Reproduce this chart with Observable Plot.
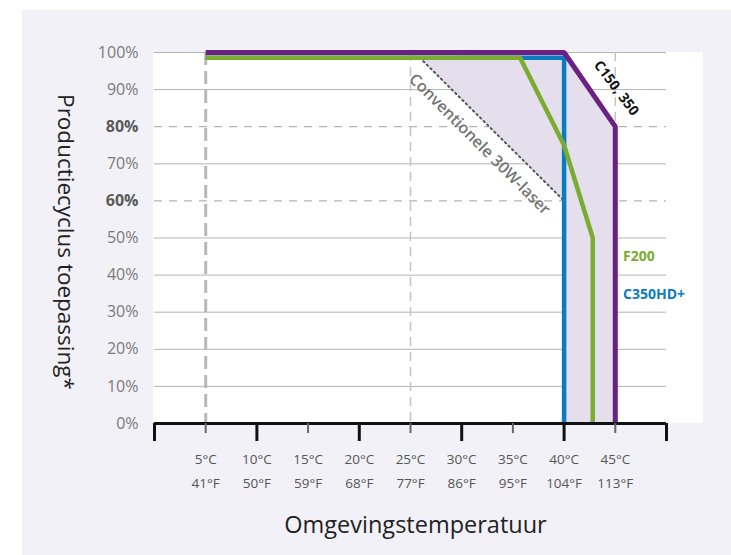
<!DOCTYPE html>
<html><head><meta charset="utf-8">
<script src="https://cdn.jsdelivr.net/npm/d3@7"></script>
<script src="https://cdn.jsdelivr.net/npm/@observablehq/plot@0.6"></script>
<style>
body{margin:0;background:#fff;font-family:"Open Sans",sans-serif;}
#wrap{position:relative;width:731px;height:555px;overflow:hidden;}
#bg{position:absolute;left:22px;top:10px;right:0;bottom:0;background:#f2f1f7;}
#panel{position:absolute;left:153px;top:52px;width:550px;height:371px;background:#fff;}
#chart{position:absolute;left:0;top:0;}
</style></head><body>
<div id="wrap"><div id="bg"></div><div id="panel"></div><div id="chart"></div></div>
<script>
// Axis ticks and labels
const yTicksNormal = [0,10,20,30,40,50,70,90,100];
const yTicksBold = [60,80];
const gridSolid = [10,20,30,40,50,70,90,100];
const gridDashed = [60,80];
const majorTicksC = [0,10,20,30,40,50];
const minorTicksC = [5,15,25,35,45];
const labelTicksC = [5,10,15,20,25,30,35,40,45];
const celsiusLabels = ["5°C","10°C","15°C","20°C","25°C","30°C","35°C","40°C","45°C"];
const fahrenheitLabels = ["41°F","50°F","59°F","68°F","77°F","86°F","95°F","104°F","113°F"];
const refThickC = [5];
const refThinC = [25,45];

// Series (temperature °C, production cycle %)
const c150Temp = [5,40,45,45];
const c150Cycle = [100,100,80,0];
const f200Temp = [5,35.7,40,42.8,42.8];
const f200Cycle = [98.6,98.6,75,50,0];
const c350Temp = [5,40,40];
const c350Cycle = [98.6,98.6,0];
const laserTemp = [25.9,40];
const laserCycle = [98.6,60];
const zoneTemp = [25.9,40,40,45];
const zoneLow = [98.6,60,0,0];
const zoneHigh = [98.6,100,100,80];

// Annotations
const annLaser = {t:31.75, p:75.3, text:"Conventionele 30W-laser"};
const annC150 = {t:45.1, p:90.4, text:"C150, 350"};
const annF200 = {t:45.75, p:44.9, text:"F200"};
const annC350 = {t:45.75, p:34.8, text:"C350HD+"};

const pts = (xs, ys) => xs.map((t,i)=>({t, p: ys[i]}));
const zone = zoneTemp.map((t,i)=>({t, lo: zoneLow[i], hi: zoneHigh[i]}));

const chart = Plot.plot({
  width: 731, height: 555,
  marginLeft: 154, marginRight: 65, marginTop: 52, marginBottom: 132,
  x: {domain: [0,50], axis: null},
  y: {domain: [0,100], axis: null},
  style: {fontFamily: "'Open Sans', sans-serif", background: "transparent", overflow: "visible"},
  marks: [
    Plot.ruleY(gridSolid, {stroke: "#b3b3b3", strokeWidth: 1}),
    Plot.ruleY(gridDashed, {stroke: "#b3b3b3", strokeWidth: 1.2, strokeDasharray: "8,7"}),
    Plot.areaY(zone, {x: "t", y1: "lo", y2: "hi", fill: "#e5deec", curve: "linear"}),
    Plot.ruleX(refThickC, {stroke: "#b8b8b8", strokeWidth: 3, strokeDasharray: "13,6"}),
    Plot.ruleX(refThinC, {stroke: "#c4c4c4", strokeWidth: 1.5, strokeDasharray: "9,6"}),
    Plot.line(pts(laserTemp, laserCycle), {x: "t", y: "p", stroke: "#555", strokeWidth: 2, strokeDasharray: "1.5,3.5", strokeLinecap: "round"}),
    Plot.line(pts(c350Temp, c350Cycle), {x: "t", y: "p", stroke: "#0b7cbf", strokeWidth: 4.5, strokeLinecap: "butt", strokeLinejoin: "miter"}),
    Plot.line(pts(f200Temp, f200Cycle), {x: "t", y: "p", stroke: "#7aac2f", strokeWidth: 4.5, strokeLinecap: "butt", strokeLinejoin: "miter"}),
    Plot.line(pts(c150Temp, c150Cycle), {x: "t", y: "p", stroke: "#6b2181", strokeWidth: 5, strokeLinecap: "butt", strokeLinejoin: "miter"}),
    Plot.ruleY([0], {stroke: "#111", strokeWidth: 3}),
    Plot.axisX(majorTicksC, {anchor: "bottom", tickSize: 18, stroke: "#111", strokeWidth: 3, tickFormat: () => "", label: null}),
    Plot.axisX(minorTicksC, {anchor: "bottom", tickSize: 10, stroke: "#666", strokeWidth: 2, tickFormat: () => "", label: null}),
    Plot.text(labelTicksC, {x: d => d, text: (d,i) => celsiusLabels[i], frameAnchor: "bottom", lineAnchor: "middle", dy: 36, fontSize: 13.5, fill: "#555"}),
    Plot.text(labelTicksC, {x: d => d, text: (d,i) => fahrenheitLabels[i], frameAnchor: "bottom", lineAnchor: "middle", dy: 60, fontSize: 13.5, fill: "#555"}),
    Plot.axisY(yTicksNormal, {anchor: "left", tickSize: 0, tickPadding: 16, tickFormat: d => d + "%", fontSize: 16, fill: "#7a7a7a", label: null}),
    Plot.axisY(yTicksBold, {anchor: "left", tickSize: 0, tickPadding: 16, tickFormat: d => d + "%", fontSize: 16, fontWeight: "bold", fill: "#5a5a5a", label: null}),
    Plot.text([annLaser], {x: "t", y: "p", text: "text", rotate: 45, fontSize: 16, fontWeight: 600, fill: "#747474"}),
    Plot.text([annC150], {x: "t", y: "p", text: "text", rotate: 53, fontSize: 14, fontWeight: "bold", fill: "#111"}),
    Plot.text([annF200], {x: "t", y: "p", text: "text", textAnchor: "start", fontSize: 14, fontWeight: "bold", fill: "#7aac2f"}),
    Plot.text([annC350], {x: "t", y: "p", text: "text", textAnchor: "start", fontSize: 14, fontWeight: "bold", fill: "#0b7cbf"}),
    Plot.text(["Productiecyclus toepassing*"], {frameAnchor: "left", textAnchor: "middle", lineAnchor: "middle", dx: -89, dy: 4, rotate: 90, fontSize: 22.5, fill: "#222"}),
    Plot.text(["Omgevingstemperatuur"], {frameAnchor: "bottom", textAnchor: "middle", lineAnchor: "middle", dx: 5, dy: 102, fontSize: 23.5, fill: "#222"})
  ]
});
document.getElementById("chart").appendChild(chart);
</script>
</body></html>
